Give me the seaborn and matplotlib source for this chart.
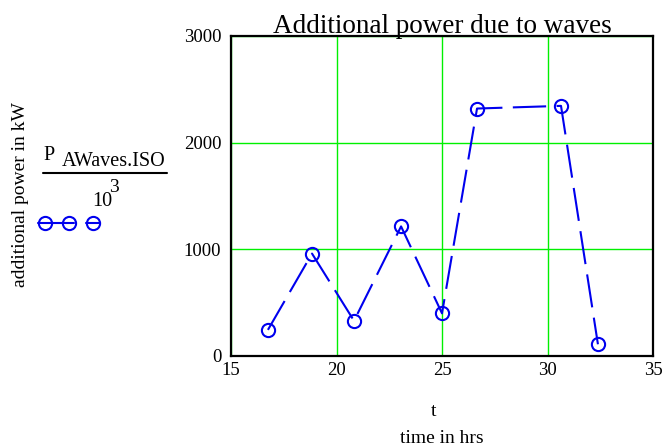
import matplotlib
matplotlib.use("Agg")
import matplotlib.pyplot as plt
import seaborn as sns
import pandas as pd

# time in hours and additional power in kW
t_hrs = [16.75, 18.84, 20.83, 23.06, 25.0, 26.66, 30.64, 32.39]
power_kw = [245, 960, 330, 1215, 400, 2320, 2345, 110]
x_ticks = [15, 20, 25, 30, 35]
y_ticks = [0, 1000, 2000, 3000]

sns.set_theme(style="white")
plt.rcParams["font.family"] = ["Liberation Serif", "DejaVu Serif"]
plt.rcParams["text.color"] = "black"
plt.rcParams["axes.labelcolor"] = "black"

df = pd.DataFrame({"t": t_hrs, "P": power_kw})

fig = plt.figure(figsize=(6.64, 4.47), dpi=100)
ax = fig.add_axes([231 / 664, 1 - 356 / 447, 422 / 664, 320 / 447])

sns.lineplot(data=df, x="t", y="P", ax=ax, color="#0000ee", lw=1.5,
             marker="o", markersize=9.5, markerfacecolor="none",
             markeredgecolor="#0000ee", markeredgewidth=1.5,
             linestyle=(0, (16, 5)), zorder=3)

ax.set_xlim(15, 35)
ax.set_ylim(0, 3000)
ax.set_xticks(x_ticks)
ax.set_yticks(y_ticks)
ax.grid(True, color="#00f000", lw=1.0)
ax.set_axisbelow(True)
ax.tick_params(axis="both", length=0, labelsize=13.5, colors="black")
ax.tick_params(axis="y", pad=7)
ax.tick_params(axis="x", pad=4)
ax.set_xlabel("")
ax.set_ylabel("")
for s in ax.spines.values():
    s.set_color("black")
    s.set_linewidth(1.6)

ax.set_title("Additional power due to waves", fontsize=19.5, pad=2.5,
             color="black")

# labels outside the plot area, in pixel coordinates
ov = fig.add_axes([0, 0, 1, 1], facecolor="none")
ov.set_xlim(0, 664)
ov.set_ylim(447, 0)
ov.axis("off")

ov.text(21, 195, "additional power in kW", rotation=90, ha="center",
        va="center", fontsize=14, color="black")
ov.text(434, 412, "t", ha="center", va="center", fontsize=14, color="black")
ov.text(442, 443, "time in hrs", ha="center", va="baseline", fontsize=14,
        color="black")

# legend entry: P_AWaves.ISO / 10^3
ov.text(43, 160, "P", ha="left", va="baseline", fontsize=14.5, color="black")
ov.text(62, 166, "AWaves.ISO", ha="left", va="baseline", fontsize=14.5,
        color="black")
ov.plot([43, 167], [173, 173], color="black", lw=1.5)
ov.text(92, 206, "10", ha="left", va="baseline", fontsize=14.5, color="black")
ov.text(109, 192, "3", ha="left", va="baseline", fontsize=14, color="black")
ov.plot([38, 74], [223, 223], color="#0000ee", lw=1.5)
ov.plot([86, 100], [223, 223], color="#0000ee", lw=1.5)
ov.plot([45, 69, 93], [223, 223, 223], linestyle="none", marker="o",
        markersize=9.5, markerfacecolor="none", markeredgecolor="#0000ee",
        markeredgewidth=1.5)

fig.savefig("out.png", dpi=100)
